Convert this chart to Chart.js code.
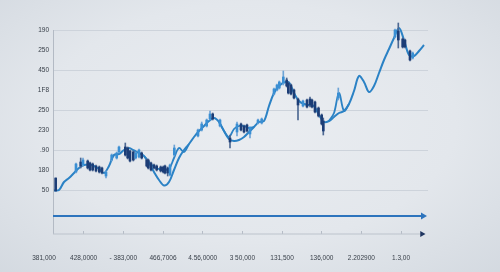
<!DOCTYPE html>
<html><head><meta charset="utf-8">
<script src="https://cdn.jsdelivr.net/npm/chart.js@4/dist/chart.umd.min.js"></script>
<style>
html,body{margin:0;padding:0;width:500px;height:272px;overflow:hidden;}
body{background:radial-gradient(ellipse 75% 80% at 50% 45%, #eaedf1 0%, #e3e7ec 55%, #d2d8df 100%);}
canvas{display:block;}
</style></head><body>
<canvas id="c" width="500" height="272"></canvas>
<script>
// ---- data ----
const xLabels = ["381,000","428,0000","- 383,000","466,7006","4.56,0000","3 50,000","131,500","136,000","2.202900","1.3,00"];
const yTickValues = [0,20,40,60,80,100,120,140,160];
const yLabels = ["50","180",".90","230","250","1F8","450","250","190"]; // bottom to top
const gridValues = [0,40,80,120,160];

const mainLine = [-0.5,0,8,12,17,22,25,25.5,24,21,17,24,35,36,40,42,39.5,37,34,27,18,10,4.5,8,20,32,40,46,53,59,64,69,72,68,59,51,49,50,53,58,63,68,69,84,97,104,107.5,107.5,97,89,86,85,84,75,68,69,73,77,79,86,99,114,108,98,104,117,130,141,152,162,150,135,134,139,145];
const signalLine = [null,null,null,null,null,null,null,null,null,null,null,null,null,null,null,null,null,null,34,28,23,21,20,21,32,42,38,46,null,null,null,null,null,68,59,53,61,64,64,62,63,null,null,null,null,null,null,null,null,null,null,null,null,null,null,69,77,97,79,86,null,null,null,null,null,null,null,null,null,null,null,null,null,null,null];

const candleT     = [0.34,4.4,5.34,5.8,6.74,7.2,7.74,8.4,9.06,9.6,10.4,11.54,12.54,13.0,14.26,14.74,15.2,15.86,16.34,17.0,17.54,18.54,18.86,19.4,20.0,20.54,21.34,21.86,22.2,22.74,23.2,24.06,28.8,29.54,30.54,31.2,31.74,33.2,35.2,36.6,37.4,38.0,38.6,39.2,40.8,41.54,44.0,44.6,45.06,45.86,46.54,46.86,47.4,48.0,48.8,49.8,50.6,51.2,51.6,52.2,52.9,53.54,53.86,56.86,68.2,68.86,69.74,70.2,71.2,71.74];
const candleOpen  = [12,18,28,25,29,27,26,24,23,22,14,30,32,38,43,42,39,38,32,33,37,30,30,27,25,24,23,23,24,22,15,35,54,60,64,71,76,64,52,58,66,64,65,56,67,67,96,100,102,107,110,107,105,100,91,84,90,91,90,88,82,75,69,92,153,159,151,150,139,132];
const candleClose = [-1,26,24,30,22,20,20,19,18,17,18,35,37,43,35,32,29,30,37,40,32,24,22,20,22,20,19,18,17,17,25,42,60,66,70,76,71,70,48,66,60,58,59,63,70,71,101,105,108,113,104,97,96,92,85,89,83,85,83,78,74,66,59,97,160,150,143,143,130,137];
const candleHigh  = [12,27,32,32,30,28,27,25,24,23,19,36,38,44,47,43,40,39,38,41,38,31,31,28,26,25,24,24,25,23,26,45,61,68,71,79,77,71,55,68,67,65,66,63,71,72,102,106,109,119,112,108,106,101,92,90,91,93,91,89,83,76,72,102,161,167,152,151,140,138];
const candleLow   = [-1,17,22,24,21,19,19,18,17,16,12,29,31,37,34,31,28,29,31,32,31,23,21,19,21,19,18,17,16,14,14,34,53,59,63,70,70,63,42,54,59,57,58,52,66,66,95,99,101,105,103,96,95,91,70,83,82,83,82,77,73,65,55,90,152,142,142,142,129,131];

const baseArrowLevel = -26;
const axisLevel = -44;

// ---- layout constants (pixels / scale units) ----
const PLOT_LEFT = 30, PLOT_RIGHT = 440, PLOT_TOP = 20, PLOT_BOTTOM = 234;
const Y_MIN = -44, Y_MAX = 170;
const DATA_X0 = 54, DATA_STEP = 5;          // pixel of t=0, px per step
const LABEL_X0 = 44, LABEL_STEP = 39.67;    // pixel of first label, px per label
const AXIS_T = -0.2, Y_LABEL_T = -1.0, GUIDE_END_T = 74.8, BLUE_ARROW_END_T = 73.8, GRAY_ARROW_END_T = 73.6;
const X_AXIS_HEIGHT = 28;

const FONT = {family:"'Liberation Sans', Arial, sans-serif", size:6.5};
const TEXT = '#39404a';
const LINE_BLUE = '#2b82c5';
const DARK = '#1c3d76', LIGHT = '#3a8fd3';

const guidePlugin = {
  id:'guides',
  beforeDatasetsDraw(chart){
    const {ctx, scales:{xd, y}} = chart;
    const x0 = xd.getPixelForValue(AXIS_T), x1 = xd.getPixelForValue(GUIDE_END_T);
    ctx.save();
    ctx.lineWidth = 1;
    ctx.strokeStyle = '#cdd3db';
    gridValues.forEach(v => {
      const py = Math.round(y.getPixelForValue(v)) + 0.5;
      ctx.beginPath(); ctx.moveTo(x0, py); ctx.lineTo(x1, py); ctx.stroke();
    });
    const ax = Math.round(x0) + 0.5;
    ctx.strokeStyle = '#b3bac4';
    ctx.beginPath();
    ctx.moveTo(ax, y.getPixelForValue(yTickValues[yTickValues.length-1]));
    ctx.lineTo(ax, y.getPixelForValue(axisLevel));
    ctx.stroke();
    ctx.restore();
  }
};

const pts = arr => arr.map((v,i)=>({x:i, y:v}));

new Chart(document.getElementById('c'), {
  type:'line',
  data:{
    datasets:[
      {type:'line', xAxisID:'xd', order:5, data:[{x:AXIS_T,y:baseArrowLevel},{x:BLUE_ARROW_END_T,y:baseArrowLevel}],
       borderColor:'#2d74bd', borderWidth:2, pointRadius:[0,4], pointStyle:'triangle', pointRotation:90,
       pointBackgroundColor:'#2d74bd', pointBorderColor:'#2d74bd', pointBorderWidth:0, tension:0},
      {type:'line', xAxisID:'xd', order:5, clip:false, data:[{x:AXIS_T,y:axisLevel},{x:GRAY_ARROW_END_T,y:axisLevel}],
       borderColor:'#bcc3cc', borderWidth:1, pointRadius:[0,3.5], pointStyle:'triangle', pointRotation:90,
       pointBackgroundColor:'#1f3560', pointBorderColor:'#1f3560', pointBorderWidth:0, tension:0},
      {type:'line', xAxisID:'xd', order:3, data:pts(mainLine), borderColor:LINE_BLUE, borderWidth:2,
       pointRadius:0, tension:0.35},
      {type:'line', xAxisID:'xd', order:3, data:pts(signalLine), borderColor:LINE_BLUE, borderWidth:1.8,
       pointRadius:0, tension:0.35, spanGaps:false},
      {type:'bar', xAxisID:'xd', order:2, grouped:false, barThickness:1,
       data:candleT.map((t,i)=>({x:t, y:[candleLow[i], candleHigh[i]]})),
       backgroundColor:candleT.map((t,i)=> candleOpen[i] > candleClose[i] ? '#4d6892' : '#6ea4d6')},
      {type:'bar', xAxisID:'xd', order:1, grouped:false, barThickness:2,
       data:candleT.map((t,i)=>({x:t, y:[candleOpen[i], candleClose[i]]})),
       backgroundColor:candleT.map((t,i)=> candleOpen[i] > candleClose[i] ? DARK : LIGHT)}
    ]
  },
  options:{
    responsive:false, animation:false, devicePixelRatio:1,
    layout:{padding:{left:PLOT_LEFT, right:500-PLOT_RIGHT, top:PLOT_TOP, bottom:272-PLOT_BOTTOM-X_AXIS_HEIGHT}},
    plugins:{legend:{display:false}, tooltip:{enabled:false}},
    scales:{
      xd:{type:'linear', display:false, offset:false,
          min:(PLOT_LEFT-DATA_X0)/DATA_STEP, max:(PLOT_RIGHT-DATA_X0)/DATA_STEP},
      x:{type:'linear', position:'bottom', offset:false,
         min:(PLOT_LEFT-LABEL_X0)/LABEL_STEP, max:(PLOT_RIGHT-LABEL_X0)/LABEL_STEP,
         afterBuildTicks:s=>{ s.ticks = xLabels.map((_,i)=>({value:i})); },
         afterFit:s=>{ s.height = X_AXIS_HEIGHT; },
         ticks:{autoSkip:false, maxRotation:0, minRotation:0, padding:23, font:FONT, color:TEXT,
                callback:(v,i)=>xLabels[i]},
         grid:{drawOnChartArea:false, drawTicks:true, tickLength:-3, tickWidth:1,
               tickColor:c=> c.index===0 ? 'rgba(0,0,0,0)' : '#b5bcc6'},
         border:{display:false}},
      y:{type:'linear', min:Y_MIN, max:Y_MAX, position:{xd:Y_LABEL_T},
         afterBuildTicks:s=>{ s.ticks = yTickValues.map(v=>({value:v})); },
         ticks:{font:FONT, color:TEXT, padding:4, callback:(v,i)=>yLabels[i]},
         grid:{display:false}, border:{display:false}}
    }
  },
  plugins:[guidePlugin]
});
</script>
</body></html>
